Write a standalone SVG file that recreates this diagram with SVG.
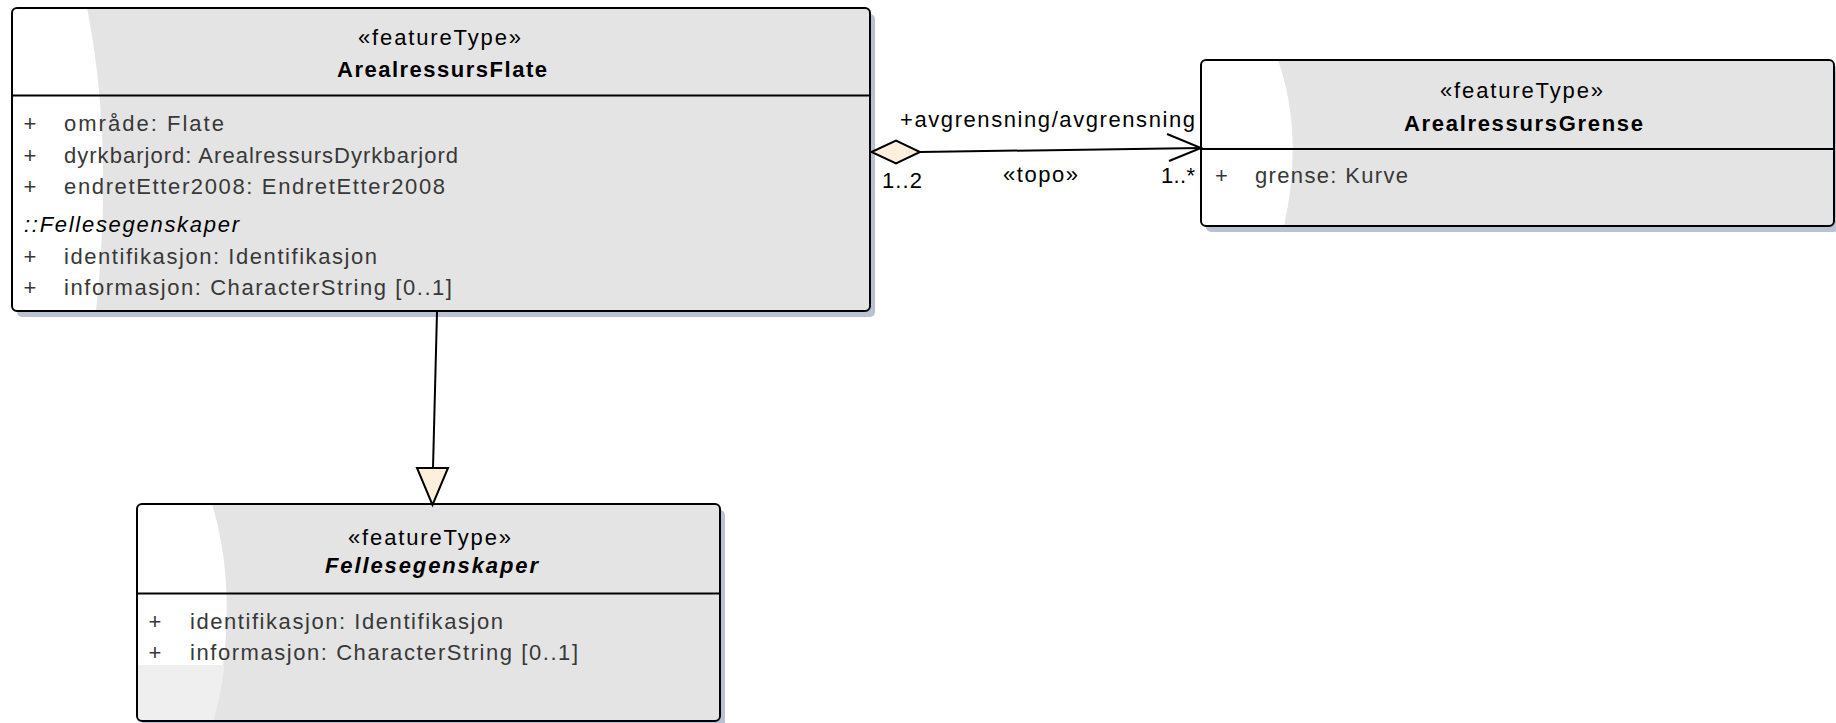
<svg xmlns="http://www.w3.org/2000/svg" width="1836" height="723" viewBox="0 0 1836 723">
<style>
.shadow{fill:#b9c1d3;stroke:none}
.body{fill:#e4e4e4;stroke:none}
.glare{fill:#ffffff;stroke:none}
.border{fill:none;stroke:#000;stroke-width:2}
.sep{stroke:#000;stroke-width:2}
text{font-family:"Liberation Sans",Arial,sans-serif;font-size:22px}
.st{fill:#000}
.nm{fill:#000;font-weight:bold}
.nmi{fill:#000;font-weight:bold;font-style:italic}
.at{fill:#383838}
.pl{fill:#383838;text-anchor:middle}
.grp{fill:#000;font-style:italic}
.lbl{fill:#000}
.conn{stroke:#000;stroke-width:2;fill:none}
.head{stroke:#000;stroke-width:2;fill:#fcf0dc;stroke-linejoin:miter}
</style>
<defs>
<clipPath id="c1"><rect x="12" y="8" width="858" height="303" rx="5"/></clipPath>
<clipPath id="c2"><rect x="1201" y="60" width="633" height="166" rx="5"/></clipPath>
<clipPath id="c3"><rect x="137" y="504" width="583" height="217" rx="5"/></clipPath>
</defs>
<rect width="1836" height="723" fill="#fff"/>

<g id="node-ArealressursFlate">
<rect class="shadow" x="17" y="14" width="858" height="303" rx="5"/>
<rect class="body" x="12" y="8" width="858" height="303" rx="5"/>
<path class="glare" clip-path="url(#c1)" d="M12,8 H87 Q114,144 96,311 H12 Z"/>
<rect class="border" x="12" y="8" width="858" height="303" rx="5"/>
<line class="sep" x1="12" y1="95.5" x2="870" y2="95.5"/>
<text class="st" x="358" y="45" textLength="163" lengthAdjust="spacing">«featureType»</text>
<text class="nm" x="337" y="77" textLength="210" lengthAdjust="spacing">ArealressursFlate</text>
<text class="pl" x="30" y="131">+</text>
<text class="at" x="64" y="131" textLength="160" lengthAdjust="spacing">område: Flate</text>
<text class="pl" x="30" y="162.5">+</text>
<text class="at" x="64" y="162.5" textLength="394" lengthAdjust="spacing">dyrkbarjord: ArealressursDyrkbarjord</text>
<text class="pl" x="30" y="194">+</text>
<text class="at" x="64" y="194" textLength="381" lengthAdjust="spacing">endretEtter2008: EndretEtter2008</text>
<text class="grp" x="24" y="232" textLength="215" lengthAdjust="spacing">::Fellesegenskaper</text>
<text class="pl" x="30" y="264">+</text>
<text class="at" x="64" y="264" textLength="313" lengthAdjust="spacing">identifikasjon: Identifikasjon</text>
<text class="pl" x="30" y="295">+</text>
<text class="at" x="64" y="295" textLength="388" lengthAdjust="spacing">informasjon: CharacterString [0..1]</text>
</g>

<g id="node-ArealressursGrense">
<rect class="shadow" x="1206" y="66" width="633" height="166" rx="5"/>
<rect class="body" x="1201" y="60" width="633" height="166" rx="5"/>
<path class="glare" clip-path="url(#c2)" d="M1201,60 H1278 Q1304,135 1284,226 H1201 Z"/>
<rect class="border" x="1201" y="60" width="633" height="166" rx="5"/>
<line class="sep" x1="1201" y1="149" x2="1834" y2="149"/>
<text class="st" x="1440" y="98" textLength="163" lengthAdjust="spacing">«featureType»</text>
<text class="nm" x="1404" y="131" textLength="239" lengthAdjust="spacing">ArealressursGrense</text>
<text class="pl" x="1221.5" y="183">+</text>
<text class="at" x="1255" y="183" textLength="153" lengthAdjust="spacing">grense: Kurve</text>
</g>

<g id="node-Fellesegenskaper">
<rect class="shadow" x="142" y="510" width="583" height="217" rx="5"/>
<rect class="body" x="137" y="504" width="583" height="217" rx="5"/>
<path class="glare" clip-path="url(#c3)" d="M137,504 H212 Q241,600 213,721 H137 Z"/>
<path clip-path="url(#c3)" fill="#efefef" d="M137,665 H224.5 Q220,700 213,721 H137 Z"/>
<rect class="border" x="137" y="504" width="583" height="217" rx="5"/>
<line class="sep" x1="137" y1="593.5" x2="720" y2="593.5"/>
<text class="st" x="348" y="545" textLength="163" lengthAdjust="spacing">«featureType»</text>
<text class="nmi" x="325" y="573" textLength="213" lengthAdjust="spacing">Fellesegenskaper</text>
<text class="pl" x="155" y="629">+</text>
<text class="at" x="190" y="629" textLength="313" lengthAdjust="spacing">identifikasjon: Identifikasjon</text>
<text class="pl" x="155" y="660">+</text>
<text class="at" x="190" y="660" textLength="388" lengthAdjust="spacing">informasjon: CharacterString [0..1]</text>
</g>

<g id="connectors">
<g id="assoc-avgrensning">
<line class="conn" x1="920" y1="152" x2="1201" y2="148"/>
<polyline class="conn" points="1167,134 1201,148 1169,161"/>
<polygon class="head" points="871.5,152 896,140.5 920,152 896,163.5"/>
<text class="lbl" x="900" y="127" textLength="295" lengthAdjust="spacing">+avgrensning/avgrensning</text>
<text class="lbl" x="882" y="188" textLength="40" lengthAdjust="spacing">1..2</text>
<text class="lbl" x="1003" y="182" textLength="75" lengthAdjust="spacing">«topo»</text>
<text class="lbl" x="1161" y="183" textLength="34" lengthAdjust="spacing">1..*</text>
</g>
<g id="gen-Fellesegenskaper">
<line class="conn" x1="437" y1="312" x2="433" y2="468"/>
<polygon class="head" points="417,468 448,468 432.5,505"/>
</g>
</g>
</svg>
